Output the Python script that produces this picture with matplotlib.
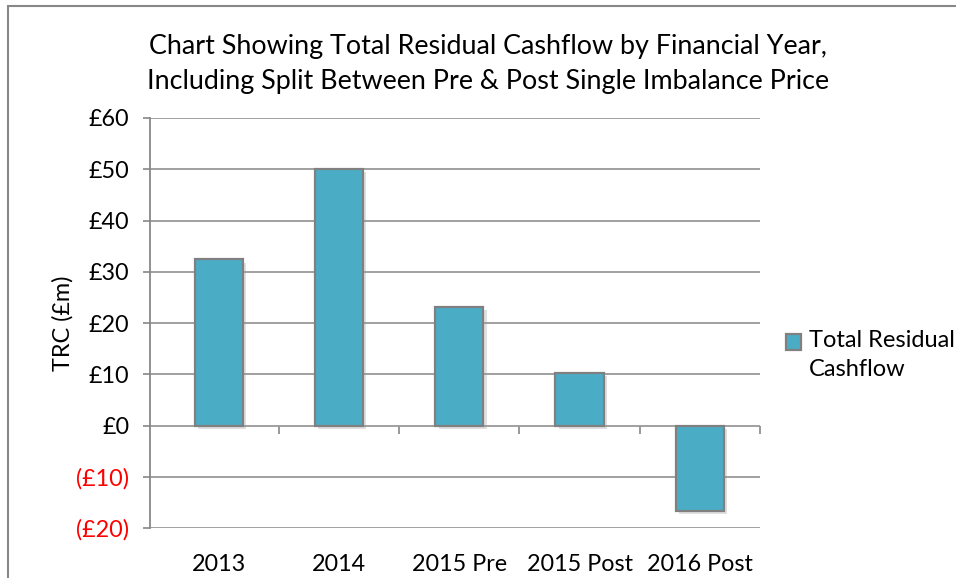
import matplotlib.pyplot as plt
import matplotlib.patheffects as pe
from matplotlib.patches import Rectangle
from matplotlib.legend_handler import HandlerPatch

years = ['2013', '2014', '2015 Pre', '2015 Post', '2016 Post']
trc = [32.4, 50.1, 23.2, 10.3, -16.6]   # Total Residual Cashflow (£m)
yticks = [-20, -10, 0, 10, 20, 30, 40, 50, 60]

plt.rcParams['font.family'] = ['Lato', 'DejaVu Sans']

fig = plt.figure(figsize=(9.56, 5.78), dpi=100)
ax = fig.add_axes([150/956, 50/578, 610/956, 410/578])

# figure border (only left & top visible in the crop)
fig.patches.append(Rectangle((8/956, -0.1), 1.2, (572/578) + 0.1, transform=fig.transFigure,
                             fill=False, edgecolor='#888888', linewidth=1.5))

x = list(range(len(years)))
bars = ax.bar(x, trc, width=0.4, color='#4BACC6', edgecolor='#808080', linewidth=1.6,
              label='Total Residual\nCashflow', zorder=3)
for b in bars:
    b.set_path_effects([pe.SimplePatchShadow(offset=(2.5, -2.5), shadow_rgbFace='#999999', alpha=0.3),
                        pe.Normal()])

ax.set_xlim(-0.57, len(years) - 0.5)
ax.set_ylim(-20, 60)
ax.set_yticks(yticks)
ax.set_yticklabels(['£%d' % v if v >= 0 else '(£%d)' % -v for v in yticks])
for lab, v in zip(ax.get_yticklabels(), yticks):
    if v < 0:
        lab.set_color('red')

ax.set_xticks(x)
ax.set_xticklabels(years)
ax.tick_params(axis='x', length=0, pad=19, labelsize=16.8)
ax.tick_params(axis='y', length=5, width=1.2, color='#888888', labelsize=16.8, pad=10)

ax.grid(axis='y', color='#999999', linewidth=1.3, zorder=0)
for s in ['top', 'right', 'bottom']:
    ax.spines[s].set_visible(False)
ax.spines['left'].set_color('#888888')
ax.spines['left'].set_linewidth(1.3)

# category axis ticks along the zero line
sec = ax.secondary_xaxis(0.25)
sec.set_xticks([i + 0.5 for i in range(len(years))])
sec.set_xticklabels([])
sec.tick_params(length=6, width=1.2, color='#888888')
sec.spines['bottom'].set_visible(False)

ax.set_ylabel('TRC (£m)', fontsize=16.8, labelpad=2)
ax.set_title('Chart Showing Total Residual Cashflow by Financial Year,\n'
             'Including Split Between Pre & Post Single Imbalance Price',
             fontsize=19.4, pad=21, linespacing=1.5, x=0.554)


# legend key sits level with the first line of the label
def top_square(legend, orig_handle, xdescent, ydescent, width, height, fontsize):
    s = 0.64 * fontsize
    return Rectangle((-xdescent, -ydescent + height - s + 0.05 * fontsize), s, s)


def from_first_bar(handle, orig):
    handle.update_from(orig.patches[0])
    handle.set_path_effects([])


leg = ax.legend(loc='center left', bbox_to_anchor=(1.007, 0.422), frameon=False, fontsize=17,
                handlelength=0.66, handleheight=2.3, handletextpad=0.35,
                handler_map={bars: HandlerPatch(patch_func=top_square, update_func=from_first_bar)})
for t in leg.get_texts():
    t.set_linespacing(1.5)

fig.savefig('out.png', dpi=100)
